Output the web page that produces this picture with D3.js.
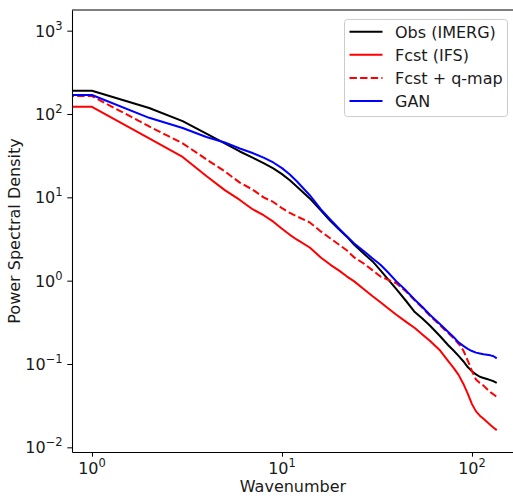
<!DOCTYPE html>
<html>
<head>
<meta charset="utf-8">
<script src="https://cdn.jsdelivr.net/npm/d3@7"></script>
<style>
  body { margin: 0; background: #fff; }
  svg text { font-family: "DejaVu Sans", sans-serif; fill: #1a1a1a; }
</style>
</head>
<body>
<svg id="chart" width="513" height="498"></svg>
<script>
// wavenumbers sampled along the curves
var wavenumber = [0.5, 1, 2, 3, 4, 5, 6, 7, 8, 9, 10, 11, 12, 14, 16, 18, 20, 22, 24, 27, 30, 33, 36, 40, 45, 50, 55, 60, 68, 75, 80, 85, 90, 95, 100, 105, 110, 115, 120, 125, 130, 135];

var obs = [190, 190, 118, 82, 58, 44.5, 35.5, 30, 25.8, 22.3, 19, 16, 13.4, 9.7, 7.0, 5.2, 4.1, 3.35, 2.7, 2.1, 1.7, 1.33, 1.05, 0.79, 0.57, 0.42, 0.35, 0.29, 0.215, 0.168, 0.145, 0.125, 0.108, 0.092, 0.082, 0.075, 0.0703, 0.068, 0.066, 0.064, 0.062, 0.0594];
var fcst = [122, 122, 51, 30.5, 18, 12.2, 9.3, 7.2, 6.1, 5.1, 4.2, 3.55, 3.1, 2.5, 1.9, 1.55, 1.32, 1.12, 0.98, 0.79, 0.65, 0.55, 0.47, 0.39, 0.32, 0.27, 0.225, 0.19, 0.145, 0.108, 0.09, 0.074, 0.058, 0.044, 0.033, 0.027, 0.024, 0.022, 0.0202, 0.0185, 0.0172, 0.0161];
var fcstQmap = [164, 164, 71, 44.5, 28.6, 20.5, 15, 12.4, 10, 8.8, 7.4, 6.5, 5.9, 5.0, 3.9, 3.2, 2.7, 2.3, 1.9, 1.6, 1.33, 1.12, 1.03, 0.93, 0.74, 0.58, 0.47, 0.38, 0.29, 0.235, 0.205, 0.175, 0.146, 0.11, 0.082, 0.065, 0.059, 0.055, 0.05, 0.046, 0.043, 0.0404];
var gan = [169, 169, 90, 68, 53, 45.5, 38.5, 34, 30, 26.2, 22.4, 18.8, 15.5, 10.6, 7.2, 5.4, 4.2, 3.4, 2.8, 2.25, 1.85, 1.55, 1.27, 0.98, 0.76, 0.59, 0.48, 0.39, 0.30, 0.242, 0.211, 0.182, 0.165, 0.152, 0.143, 0.137, 0.134, 0.131, 0.129, 0.127, 0.124, 0.117];

var seriesNames = ["Obs (IMERG)", "Fcst (IFS)", "Fcst + q-map", "GAN"];
var xMajorTicks = [1, 10, 100];
var yMajorTicks = [1e-2, 1e-1, 1, 1e1, 1e2, 1e3];
var xLimits = [0.785, 166.4];
var yLimits = [0.00879, 1770];

var seriesValues = [obs, fcst, fcstQmap, gan];
var seriesColors = ["#000000", "#ff0000", "#ff0000", "#0000ff"];
var seriesDash = [null, null, "7.4,3.2", null];

var svg = d3.select("#chart");
var margin = {top: 10, right: -1, bottom: 46, left: 72};
var W = 513, H = 498;

var x = d3.scaleLog().domain(xLimits).range([margin.left, W - margin.right]);
var y = d3.scaleLog().domain(yLimits).range([H - margin.bottom, margin.top]);

function minors(lo, hi) {
  var out = [];
  for (var e = -3; e <= 3; e++) {
    for (var m = 2; m <= 9; m++) {
      var v = m * Math.pow(10, e);
      if (v >= lo && v <= hi) out.push(v);
    }
  }
  return out;
}

function sup(v) {
  var e = Math.round(Math.log10(v));
  return e < 0 ? "\u2212" + (-e) : String(e);
}

svg.append("defs").append("clipPath").attr("id", "clip")
  .append("rect")
  .attr("x", x.range()[0]).attr("y", y.range()[1])
  .attr("width", x.range()[1] - x.range()[0])
  .attr("height", y.range()[0] - y.range()[1]);

// lines
var line = d3.line()
  .x(function(d) { return x(d[0]); })
  .y(function(d) { return y(d[1]); });

var plot = svg.append("g").attr("clip-path", "url(#clip)");
seriesValues.forEach(function(vals, i) {
  plot.append("path")
    .datum(wavenumber.map(function(k, j) { return [k, vals[j]]; }))
    .attr("d", line)
    .attr("fill", "none")
    .attr("stroke", seriesColors[i])
    .attr("stroke-width", 2)
    .attr("stroke-dasharray", seriesDash[i])
    .attr("stroke-linejoin", "round");
});

// axes
var gx = svg.append("g").attr("transform", "translate(0," + y.range()[0] + ")");
gx.call(d3.axisBottom(x).tickValues(minors(xLimits[0], xLimits[1])).tickSize(2.7).tickSizeOuter(0).tickFormat(""));
gx.call(d3.axisBottom(x).tickValues(xMajorTicks).tickSize(4.7).tickSizeOuter(0).tickFormat(""));

var gy = svg.append("g").attr("transform", "translate(" + x.range()[0] + ",0)");
gy.call(d3.axisLeft(y).tickValues(minors(yLimits[0], yLimits[1])).tickSize(2.7).tickSizeOuter(0).tickFormat(""));
gy.call(d3.axisLeft(y).tickValues(yMajorTicks).tickSize(4.7).tickSizeOuter(0).tickFormat(""));

svg.selectAll(".domain").attr("stroke", "#000").attr("stroke-width", 1.07);
svg.selectAll(".tick line").attr("stroke", "#000").attr("stroke-width", 1);

// top spine
svg.append("line")
  .attr("x1", x.range()[0]).attr("x2", x.range()[1])
  .attr("y1", y.range()[1]).attr("y2", y.range()[1])
  .attr("stroke", "#000").attr("stroke-width", 1.07);

// tick labels with superscripts
xMajorTicks.forEach(function(v) {
  var t = svg.append("text")
    .attr("x", x(v)).attr("y", y.range()[0] + 22)
    .attr("text-anchor", "middle")
    .attr("font-size", 16);
  t.append("tspan").text("10");
  t.append("tspan").attr("dy", -7).attr("font-size", 11.5).text(sup(v));
});

yMajorTicks.forEach(function(v) {
  var t = svg.append("text")
    .attr("x", x.range()[0] - 9.4).attr("y", y(v) + 6)
    .attr("text-anchor", "end")
    .attr("font-size", 16);
  t.append("tspan").text("10");
  t.append("tspan").attr("dy", -7).attr("font-size", 11.5).text(sup(v));
});

// axis titles
svg.append("text")
  .attr("x", (x.range()[0] + x.range()[1]) / 2)
  .attr("y", 492)
  .attr("text-anchor", "middle")
  .attr("font-size", 16)
  .text("Wavenumber");

svg.append("text")
  .attr("transform", "translate(20," + ((y.range()[0] + y.range()[1]) / 2) + ") rotate(-90)")
  .attr("text-anchor", "middle")
  .attr("font-size", 16)
  .text("Power Spectral Density");

// legend
var lg = svg.append("g").attr("transform", "translate(344.5,19.5)");
lg.append("rect")
  .attr("width", 163).attr("height", 97)
  .attr("rx", 3)
  .attr("fill", "#fff").attr("fill-opacity", 0.8)
  .attr("stroke", "#cccccc").attr("stroke-width", 1);

seriesNames.forEach(function(name, i) {
  var row = lg.append("g").attr("transform", "translate(0," + (12.2 + i * 23.1) + ")");
  row.append("line")
    .attr("x1", 5).attr("x2", 38)
    .attr("stroke", seriesColors[i])
    .attr("stroke-width", 2)
    .attr("stroke-dasharray", seriesDash[i]);
  row.append("text")
    .attr("x", 50.5).attr("y", 5.8)
    .attr("font-size", 16)
    .text(name);
});
</script>
</body>
</html>
